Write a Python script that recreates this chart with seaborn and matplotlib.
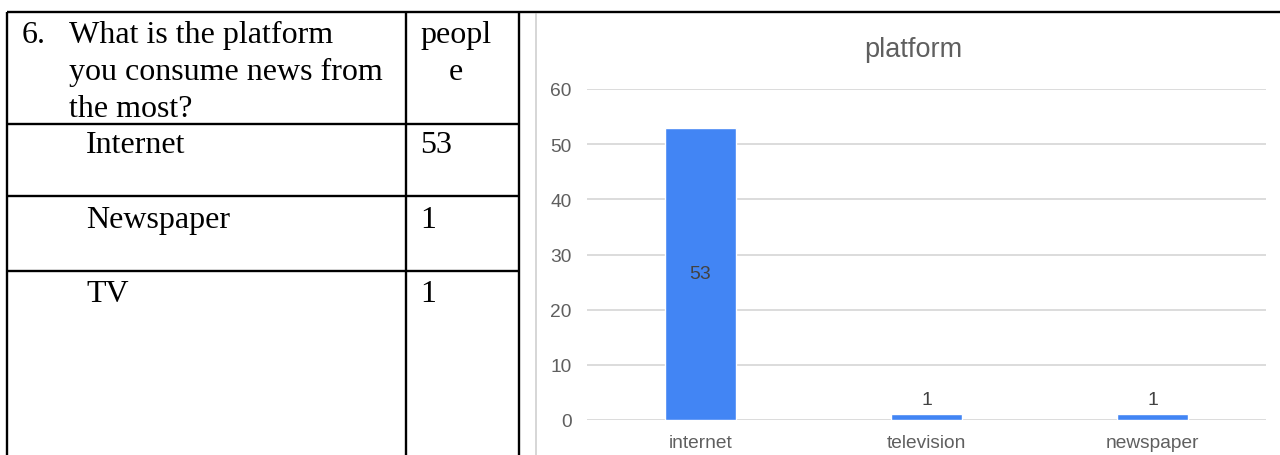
import matplotlib
matplotlib.use("Agg")
import matplotlib.pyplot as plt
import seaborn as sns
import pandas as pd

# Survey answers: platform people consume news from the most
question = "What is the platform\nyou consume news from\nthe most?"
question_no = "6."
count_header = ["peopl", "e"]
table_answers = ["Internet", "Newspaper", "TV"]
table_counts = [53, 1, 1]

chart_title = "platform"
chart_categories = ["internet", "television", "newspaper"]
chart_values = [53, 1, 1]
y_ticks = [0, 10, 20, 30, 40, 50, 60]

W, H = 1280, 456
sns.set_theme(style="white")
plt.rcParams["font.family"] = ["Liberation Sans", "DejaVu Sans"]

fig = plt.figure(figsize=(W / 100, H / 100), dpi=100)
fig.patch.set_facecolor("white")

# ---- document layer (table grid + text) in pixel coordinates ----
doc = fig.add_axes([0, 0, 1, 1])
doc.set_xlim(0, W)
doc.set_ylim(H, 0)
doc.axis("off")

serif = ["Liberation Serif", "DejaVu Serif"]
lw = 1.7
# chart frame (light grey border of the embedded chart)
doc.plot([536, 536], [15, H], color="#cfcfcf", lw=1.2)
# table lines
doc.plot([7, W], [13, 13], color="black", lw=lw, solid_capstyle="butt")
for x in (7, 406, 519):
    doc.plot([x, x], [13, H], color="black", lw=lw, solid_capstyle="butt")
for y in (125, 197, 272):
    doc.plot([7, 519], [y, y], color="black", lw=lw, solid_capstyle="butt")

fs = 23
doc.text(22, 43, question_no, family=serif, fontsize=fs, va="baseline", color="black")
for i, line in enumerate(question.split("\n")):
    doc.text(69, 43 + i * 37, line, family=serif, fontsize=fs, va="baseline", color="black")
doc.text(420, 43, count_header[0], family=serif, fontsize=fs, va="baseline", color="black")
doc.text(456, 80, count_header[1], family=serif, fontsize=fs, va="baseline", ha="center", color="black")

row_base = [153, 228, 302]
for yb, name, cnt in zip(row_base, table_answers, table_counts):
    doc.text(86, yb, name, family=serif, fontsize=fs, va="baseline", color="black")
    doc.text(420, yb, str(cnt), family=serif, fontsize=fs, va="baseline", color="black")

# ---- bar chart ----
ax = fig.add_axes([587 / W, 35 / H, 679 / W, 331 / H])
ax.set_facecolor("none")
df = pd.DataFrame({"platform": chart_categories, "count": chart_values})
sns.barplot(data=df, x="platform", y="count", color="#4285F4", width=0.314,
            saturation=1, ax=ax, zorder=3)
ax.set_xlim(-0.5, 2.5)
ax.set_ylim(0, 60)
ax.set_yticks(y_ticks)
ax.set_xlabel("")
ax.set_ylabel("")
for s in ax.spines.values():
    s.set_visible(False)
for t in y_ticks:
    ax.axhline(t, color="#d9d9d9", lw=1.3, zorder=1)
ax.tick_params(axis="both", length=0, labelsize=13.8, labelcolor="#5f5f5f")
ax.tick_params(axis="y", pad=11)
ax.tick_params(axis="x", pad=10)

cont = ax.containers[0]
for patch, v in zip(cont.patches, chart_values):
    cx = patch.get_x() + patch.get_width() / 2
    if v > 10:
        ax.text(cx, v / 2, str(v), ha="center", va="center", fontsize=14,
                color="#424242", zorder=4)
    else:
        ax.annotate(str(v), (cx, v), xytext=(0, 5), textcoords="offset points",
                    ha="center", va="bottom", fontsize=14, color="#424242", zorder=4)

fig.text(913 / W, 1 - 50 / H, chart_title, ha="center", va="center",
         fontsize=19.5, color="#5f5f5f")

fig.savefig("out.png", dpi=100, facecolor="white")
